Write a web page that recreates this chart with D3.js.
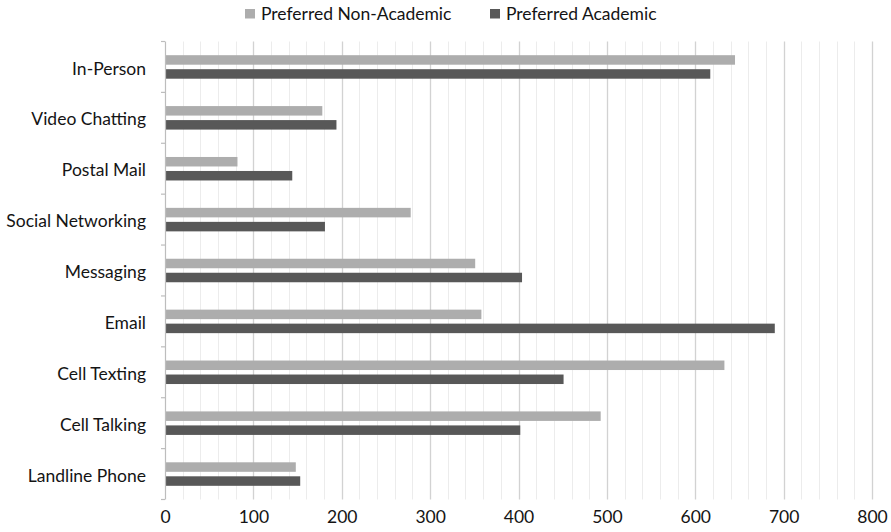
<!DOCTYPE html>
<html>
<head>
<meta charset="utf-8">
<script src="https://cdn.jsdelivr.net/npm/d3@7"></script>
<style>
  html, body { margin: 0; padding: 0; background: #ffffff; }
  svg { display: block; }
  text { font-family: Lato, "Open Sans", sans-serif; fill: #141414; }
</style>
</head>
<body>
<svg id="chart" width="891" height="532"></svg>
<script>
// ---- data ----
const categories = ["In-Person", "Video Chatting", "Postal Mail", "Social Networking", "Messaging", "Email", "Cell Texting", "Cell Talking", "Landline Phone"];
const seriesNames = ["Preferred Non-Academic", "Preferred Academic"];
const nonAcademic = [645, 178, 82, 278, 351, 358, 633, 493, 148];
const academic = [617, 194, 144, 181, 404, 690, 451, 402, 153];
const xTicks = [0, 100, 200, 300, 400, 500, 600, 700, 800];
const colors = ["#adadad", "#585858"];

(function () {
const rows = categories.map((c, i) => ({ cat: c, values: [nonAcademic[i], academic[i]] }));

const svg = d3.select("#chart");
const plotLeft = 165, plotRight = 872, plotTop = 41.5, plotBottom = 499.5;

const x = d3.scaleLinear().domain([0, 800]).range([plotLeft, plotRight]);
const y = d3.scaleBand().domain(categories).range([plotTop, plotBottom]).paddingInner(0.538).paddingOuter(0.269);
const yFull = d3.scaleBand().domain(categories).range([plotTop, plotBottom]).padding(0);
const ySub = d3.scaleBand().domain([0, 1]).range([0, y.bandwidth()]).paddingInner(0.321);

// minor gridlines
const minor = d3.range(20, 801, 20).filter(v => v % 100 !== 0);
svg.append("g").selectAll("line").data(minor).join("line")
  .attr("x1", d => Math.round(x(d)) + 0.5).attr("x2", d => Math.round(x(d)) + 0.5)
  .attr("y1", plotTop).attr("y2", plotBottom)
  .attr("stroke", "#ececec").attr("stroke-width", 1);
// major gridlines
svg.append("g").selectAll("line").data(xTicks.slice(1)).join("line")
  .attr("x1", d => Math.round(x(d)) + 0.5).attr("x2", d => Math.round(x(d)) + 0.5)
  .attr("y1", plotTop).attr("y2", plotBottom)
  .attr("stroke", "#d2d2d2").attr("stroke-width", 1.3);

// bars
const groups = svg.append("g").selectAll("g").data(rows).join("g")
  .attr("transform", d => `translate(0,${y(d.cat)})`);
groups.selectAll("rect").data(d => d.values.map((v, k) => ({ v, k }))).join("rect")
  .attr("x", x(0)).attr("y", d => ySub(d.k))
  .attr("width", d => x(d.v) - x(0)).attr("height", ySub.bandwidth())
  .attr("fill", d => colors[d.k]);

// left axis line with boundary ticks
const boundaries = categories.map(c => yFull(c)).concat([plotBottom]);
svg.append("line").attr("x1", plotLeft + 0.5).attr("x2", plotLeft + 0.5).attr("y1", plotTop).attr("y2", plotBottom)
  .attr("stroke", "#bdbdbd").attr("stroke-width", 1.2);
svg.append("g").selectAll("line").data(boundaries).join("line")
  .attr("x1", plotLeft - 4).attr("x2", plotLeft).attr("y1", d => d).attr("y2", d => d)
  .attr("stroke", "#bdbdbd").attr("stroke-width", 1.2);

// category labels
const yAxis = d3.axisLeft(yFull).tickSize(0).tickPadding(19);
const gy = svg.append("g").attr("transform", `translate(${plotLeft},2)`).call(yAxis);
gy.select(".domain").remove();
gy.selectAll("text").style("font-size", "17.5px").style("font-family", "Lato, 'Open Sans', sans-serif").attr("fill", "#141414");

// x tick labels
const xAxis = d3.axisBottom(x).tickValues(xTicks).tickSize(0).tickPadding(0);
const gx = svg.append("g").attr("transform", `translate(0,${plotBottom + 11})`).call(xAxis);
gx.select(".domain").remove();
gx.selectAll("text").style("font-size", "17.5px").style("font-family", "Lato, 'Open Sans', sans-serif").attr("fill", "#141414");

// legend
const legendX = [245, 490];
const lg = svg.append("g").selectAll("g").data(seriesNames).join("g")
  .attr("transform", (d, i) => `translate(${legendX[i]},9)`);
lg.append("rect").attr("width", 10).attr("height", 9.5).attr("fill", (d, i) => colors[i]);
lg.append("text").attr("x", 16).attr("y", 5).attr("dy", "0.35em")
  .style("font-size", "17.5px").text(d => d);
})();
</script>
</body>
</html>
